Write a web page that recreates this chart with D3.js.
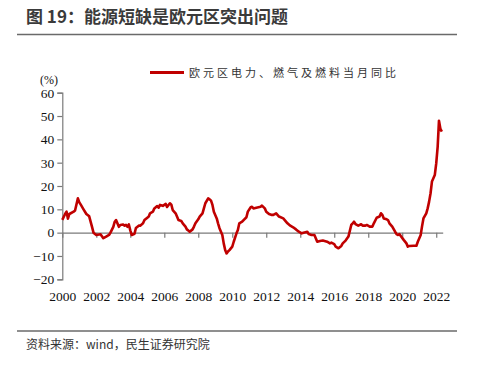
<!DOCTYPE html>
<html>
<head>
<meta charset="utf-8">
<script src="https://cdn.jsdelivr.net/npm/d3@7"></script>
<style>
    body { margin: 0; background: #fff; }
    .tick text { font-family: "Liberation Serif", "DejaVu Serif", serif; font-size: 13.5px; fill: #111; }
</style>
</head>
<body>
<svg id="chart" width="479" height="370"></svg>
<script>
// month of each reading
const months = [
    '2000-01','2000-03','2000-04','2000-05','2000-06','2000-09','2000-10','2000-12',
    '2001-01','2001-02','2001-04','2001-06','2001-08','2001-10','2001-11',
    '2002-01','2002-04','2002-06','2002-08','2002-10','2002-11',
    '2003-01','2003-02','2003-03','2003-05','2003-06','2003-08','2003-09','2003-10','2003-11','2003-12',
    '2004-01','2004-02','2004-04','2004-05','2004-07','2004-08','2004-10','2004-11',
    '2005-01','2005-02','2005-03','2005-05','2005-06','2005-08','2005-09','2005-10','2005-12',
    '2006-02','2006-03','2006-05','2006-06','2006-07','2006-09','2006-10','2006-11',
    '2007-01','2007-02','2007-04','2007-05','2007-06','2007-07','2007-09','2007-10','2007-11',
    '2008-01','2008-02','2008-04','2008-05','2008-06','2008-08','2008-09','2008-10','2008-11','2008-12',
    '2009-02','2009-03','2009-04','2009-06','2009-07','2009-08','2009-09','2009-10','2009-11',
    '2010-01','2010-02','2010-04','2010-05','2010-06','2010-08','2010-09','2010-11','2010-12',
    '2011-02','2011-03','2011-04','2011-06','2011-09','2011-10','2011-12',
    '2012-01','2012-03','2012-05','2012-06','2012-08','2012-10',
    '2013-01','2013-02','2013-04','2013-06','2013-08','2013-10','2013-12',
    '2014-02','2014-04','2014-06','2014-07','2014-09','2014-11',
    '2015-01','2015-03','2015-05','2015-08','2015-10','2015-11',
    '2016-01','2016-02','2016-04','2016-06','2016-07','2016-09','2016-11',
    '2017-01','2017-02','2017-03','2017-04','2017-06','2017-08','2017-09','2017-11','2017-12',
    '2018-02','2018-04','2018-05','2018-07','2018-09','2018-10','2018-11','2018-12',
    '2019-02','2019-03','2019-04','2019-06','2019-08','2019-09','2019-10','2019-11','2019-12',
    '2020-02','2020-04','2020-05','2020-06','2020-09','2020-11','2020-12',
    '2021-02','2021-03','2021-04','2021-06','2021-07','2021-08','2021-09','2021-10','2021-12',
    '2022-01','2022-02','2022-03','2022-04','2022-05'
];

// 欧元区电力、燃气及燃料当月同比 (%)
const values = [
    5.5, 8, 9, 6, 8, 9, 9.5, 14.7,
    13, 12, 10, 8, 7, 2.5, 0,
    -1, -0.7, -2.4, -1.7, -1, 0,
    2.5, 4.7, 5.4, 2.5, 3.3, 3.5, 3, 3.3, 2.5, 3.5,
    1, -1, -0.5, 2, 3, 3, 4, 5.4,
    6.4, 6.9, 8.3, 9, 10.4, 11.4, 10.7, 11.9, 11.5,
    12.3, 11, 12.6, 12, 9.7, 8.3, 6.9, 5.4,
    5, 4, 2.6, 1.4, 0.9, 0.4, 1.4, 2.6, 4,
    5.7, 6.9, 8.3, 10.4, 12.6, 14.7, 14.3, 13.7, 11.9, 9,
    6.1, 4, 1.9, -1, -4.6, -7.4, -8.9, -8.1, -7.5,
    -6, -3.9, -0.3, 1.1, 4, 4.7, 5.4, 6.6, 9,
    10.9, 11.1, 10.4, 10.7, 11.1, 11.6, 10.4,
    9, 8, 7.6, 7.6, 8.3, 6.9,
    6.1, 5.4, 4, 3, 2.3, 1.4, 0.4,
    -0.3, 0.1, 0.4, -0.6, -1, -1,
    -3.9, -3.6, -3.4, -3.9, -4.6, -4.3,
    -4.9, -6, -6.7, -5.7, -4.6, -3.4, -1.7,
    3.3, 4, 4.7, 3.7, 3, 3.6, 3, 3, 3.3,
    2.6, 2.6, 4, 6.4, 6.9, 8.3, 7.6, 6.1,
    5.7, 5.4, 4, 2.6, 0.4, -0.6, -1, -0.6, -1.4,
    -3.1, -4.6, -6, -5.7, -5.6, -5.6, -3.9,
    -1, 2.6, 6.1, 8.3, 10.4, 13.3, 16.9, 21.9, 24.7,
    29.7, 36.9, 48, 44.5, 43.3
];

const yTicks = [-20, -10, 0, 10, 20, 30, 40, 50, 60];
const seriesName = '欧元区电力、燃气及燃料当月同比';
const title = '图 19：能源短缺是欧元区突出问题';
const source = '资料来源：wind，民生证券研究院';

const svg = d3.select('#chart');
const parse = d3.timeParse('%Y-%m');
const data = months.map((m, i) => ({ date: parse(m), value: values[i] }));

const x = d3.scaleTime()
    .domain([new Date(2000, 0, 1), new Date(2022, 4, 20)])
    .range([62.3, 442.7]);
const y = d3.scaleLinear().domain([-20, 60]).range([279.3, 92.7]);

//title and rules
svg.append('text')
    .attr('x', 26).attr('y', 23)
    .style('font-family', '"Noto Sans CJK SC", sans-serif')
    .style('font-size', '17px')
    .style('font-weight', 'bold')
    .style('fill', '#3a3a3a')
    .text(title);

svg.append('line')
    .attr('x1', 17).attr('x2', 457).attr('y1', 34.5).attr('y2', 34.5)
    .style('stroke', '#6a6a6a').style('stroke-width', 1.5);

svg.append('line')
    .attr('x1', 17).attr('x2', 457).attr('y1', 331).attr('y2', 331)
    .style('stroke', '#6a6a6a').style('stroke-width', 1.5);

svg.append('text')
    .attr('x', 26).attr('y', 349)
    .style('font-family', '"Noto Sans CJK SC", sans-serif')
    .style('font-size', '12px')
    .style('fill', '#333')
    .text(source);

//y axis
const yAxis = svg.append('g')
    .attr('transform', 'translate(' + x.range()[0] + ',0)')
    .call(d3.axisLeft(y).tickValues(yTicks).tickSize(5).tickPadding(3));
yAxis.selectAll('path, line').style('stroke', '#7a7a7a').style('stroke-width', 1.2);

svg.append('text')
    .attr('x', 40).attr('y', 84)
    .style('font-family', '"Liberation Serif", serif')
    .style('font-size', '12px')
    .style('fill', '#111')
    .text('(%)');

//zero line with ticks
const xTicks = d3.timeYear.every(2).range(new Date(2000, 0, 1), new Date(2022, 11, 31));
const zeroAxis = svg.append('g')
    .attr('transform', 'translate(0,' + y(0) + ')')
    .call(d3.axisBottom(x).tickValues(xTicks).tickSize(5).tickSizeOuter(0).tickFormat(''));
zeroAxis.selectAll('path, line').style('stroke', '#7a7a7a').style('stroke-width', 1.2);

//year labels at bottom
const labelAxis = svg.append('g')
    .attr('transform', 'translate(0,' + y(-20) + ')')
    .call(d3.axisBottom(x).tickValues(xTicks).tickSize(0).tickPadding(12).tickFormat(d3.timeFormat('%Y')));
labelAxis.select('.domain').remove();

//series line
svg.append('path')
    .datum(data)
    .attr('d', d3.line().x(d => x(d.date)).y(d => y(d.value)))
    .style('fill', 'none')
    .style('stroke', '#c00000')
    .style('stroke-width', 2.6)
    .style('stroke-linejoin', 'round');

//legend
svg.append('line')
    .attr('x1', 150).attr('x2', 184).attr('y1', 72.5).attr('y2', 72.5)
    .style('stroke', '#c00000').style('stroke-width', 3);

svg.append('text')
    .attr('x', 189).attr('y', 76.5)
    .style('font-family', '"Noto Sans CJK SC", sans-serif')
    .style('font-size', '11px')
    .style('letter-spacing', '3px')
    .style('fill', '#333')
    .text(seriesName);
</script>
</body>
</html>
